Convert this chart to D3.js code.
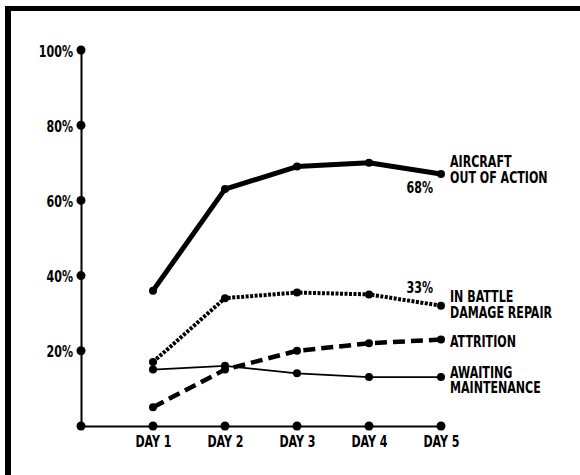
<!DOCTYPE html>
<html>
<head>
<meta charset="utf-8">
<script src="https://cdnjs.cloudflare.com/ajax/libs/d3/7.8.5/d3.min.js"></script>
<style>
body { margin: 0; background: #fff; }
text { font-family: "Liberation Sans Narrow", "DejaVu Sans Condensed", sans-serif; font-weight: bold; font-size: 15px; fill: #000; }
.axis path { stroke: #000; stroke-width: 2; }
.serie { fill: none; stroke: #000; stroke-linejoin: round; }
.serie.action { stroke-width: 5; }
.serie.repair { stroke-width: 4; stroke-dasharray: 3 1.5; }
.serie.attrition { stroke-width: 4.5; stroke-dasharray: 12 6; }
.serie.awaiting { stroke-width: 1.8; }
.frame { fill: #000; }
</style>
</head>
<body>
<div id="chart"></div>
<script>
var days = ["DAY 1", "DAY 2", "DAY 3", "DAY 4", "DAY 5"],
    yTicks = [20, 40, 60, 80, 100],
    outOfAction = [36, 63, 69, 70, 67],
    battleDamage = [17, 34, 35.5, 35, 32],
    attrition = [5, 15, 20, 22, 23],
    awaiting = [15, 16, 14, 13, 13],
    seriesNames = [["AIRCRAFT", "OUT OF ACTION"], ["IN BATTLE", "DAMAGE REPAIR"], ["ATTRITION"], ["AWAITING", "MAINTENANCE"]],
    endValues = ["68%", "33%", "", ""];

var series = [
    {values: outOfAction, classe: "action", names: seriesNames[0], end: endValues[0], dy: [-7.5, 9], endDy: 19},
    {values: battleDamage, classe: "repair", names: seriesNames[1], end: endValues[1], dy: [-4, 12], endDy: -13},
    {values: attrition, classe: "attrition", names: seriesNames[2], end: endValues[2], dy: [7.5], endDy: 0},
    {values: awaiting, classe: "awaiting", names: seriesNames[3], end: endValues[3], dy: [1, 16], endDy: 0}
];

var width = 580, height = 475,
    // police condensée et étirée en hauteur, comme l'original
    stretch = "scale(0.82,1.1)",
    x = d3.scaleLinear().domain([0, 5]).range([81, 441]),
    y = d3.scaleLinear().domain([0, 100]).range([426, 50]);

var svg = d3.select("#chart").append("svg")
    .attr("width", width)
    .attr("height", height);

// cadre
svg.append("rect").attr("class", "frame").attr("x", 5).attr("y", 6).attr("width", 575).attr("height", 5);
svg.append("rect").attr("class", "frame").attr("x", 5).attr("y", 6).attr("width", 6).attr("height", 469);

// axes
var yAxis = d3.axisLeft(y)
    .tickValues(yTicks)
    .tickSize(0)
    .tickSizeOuter(0)
    .tickFormat(function (d) { return d + "%"; });
var xAxis = d3.axisBottom(x)
    .tickValues([1, 2, 3, 4, 5])
    .tickSize(0)
    .tickSizeOuter(0)
    .tickFormat(function (d) { return days[d - 1]; });

var gy = svg.append("g")
    .attr("class", "axis")
    .attr("transform", "translate(" + x(0) + ",0)")
    .call(yAxis);
gy.selectAll("text")
    .attr("x", 0).attr("y", 0).attr("dy", 0)
    .attr("transform", "translate(-8,6) " + stretch);

var gx = svg.append("g")
    .attr("class", "axis")
    .attr("transform", "translate(0," + y(0) + ")")
    .call(xAxis);
gx.selectAll("text")
    .attr("y", 0).attr("dy", 0)
    .attr("transform", "translate(0,21) " + stretch);
svg.selectAll(".axis").attr("font-size", null).attr("font-family", null);

svg.append("g").selectAll("circle")
    .data([0].concat(yTicks))
    .enter().append("circle")
    .attr("cx", x(0))
    .attr("cy", function (d) { return y(d); })
    .attr("r", 4.5);
svg.append("g").selectAll("circle")
    .data([1, 2, 3, 4, 5])
    .enter().append("circle")
    .attr("cx", function (d) { return x(d); })
    .attr("cy", y(0))
    .attr("r", 4.5);

// courbes
var line = d3.line()
    .x(function (d, i) { return x(i + 1); })
    .y(function (d) { return y(d); });

var g = svg.append("g").selectAll(".s")
    .data(series)
    .enter().append("g");

g.append("path")
    .attr("class", function (d) { return "serie " + d.classe; })
    .attr("d", function (d) { return line(d.values); });

g.selectAll("circle")
    .data(function (d) { return d.values; })
    .enter().append("circle")
    .attr("cx", function (d, i) { return x(i + 1); })
    .attr("cy", function (d) { return y(d); })
    .attr("r", 4);

g.each(function (d) {
    var last = y(d.values[d.values.length - 1]),
        sel = d3.select(this);
    d.names.forEach(function (n, i) {
        sel.append("text")
            .attr("transform", "translate(" + (x(5) + 9) + "," + (last + d.dy[i]) + ") " + stretch)
            .text(n);
    });
    if (d.end) {
        sel.append("text")
            .attr("text-anchor", "end")
            .attr("transform", "translate(" + (x(5) - 8) + "," + (last + d.endDy) + ") " + stretch)
            .text(d.end);
    }
});
</script>
</body>
</html>
